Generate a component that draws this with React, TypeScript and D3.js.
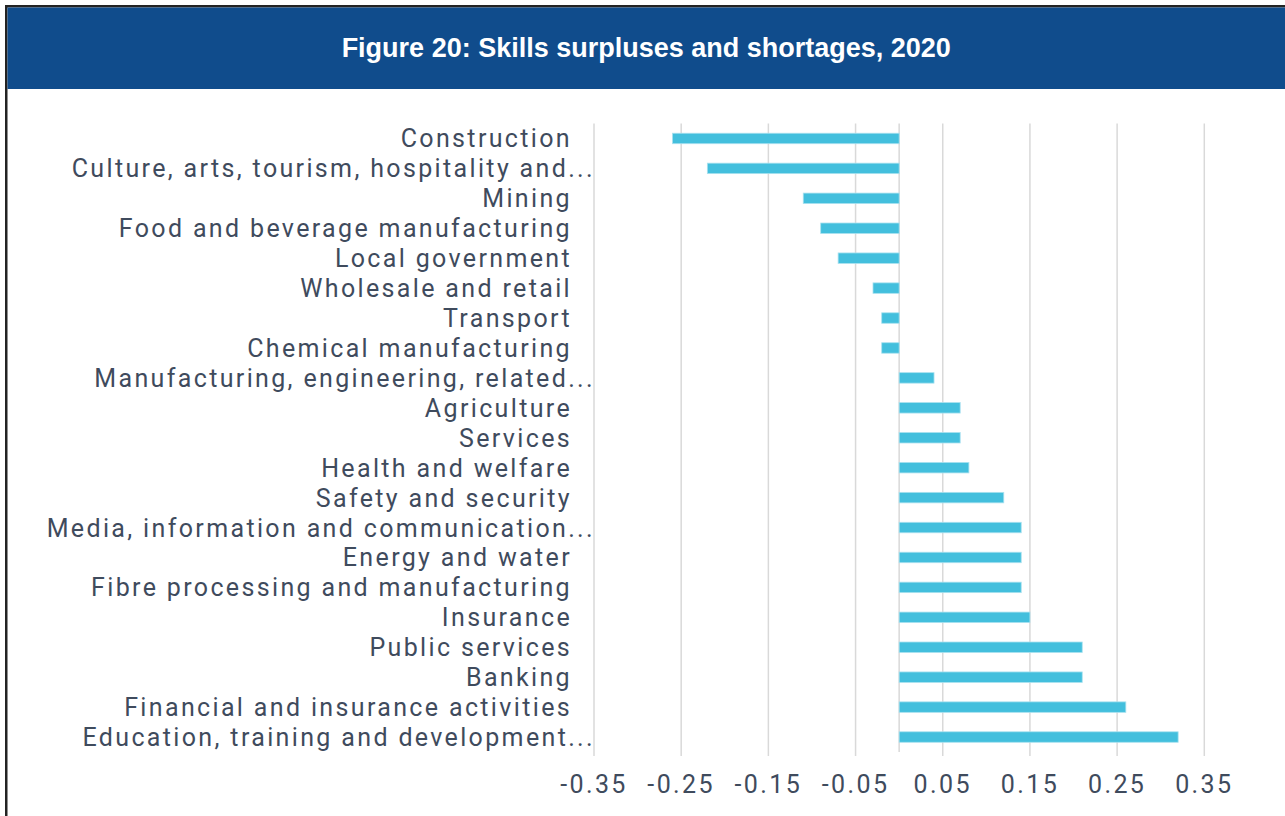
import React from "react";
import * as d3 from "d3";

const categories: string[] = [
  "Construction",
  "Culture, arts, tourism, hospitality and...",
  "Mining",
  "Food and beverage manufacturing",
  "Local government",
  "Wholesale and retail",
  "Transport",
  "Chemical manufacturing",
  "Manufacturing, engineering, related...",
  "Agriculture",
  "Services",
  "Health and welfare",
  "Safety and security",
  "Media, information and communication...",
  "Energy and water",
  "Fibre processing and manufacturing",
  "Insurance",
  "Public services",
  "Banking",
  "Financial and insurance activities",
  "Education, training and development...",
];

const values: number[] = [
  -0.26, -0.22, -0.11, -0.09, -0.07, -0.03, -0.02, -0.02, 0.04, 0.07, 0.07,
  0.08, 0.12, 0.14, 0.14, 0.14, 0.15, 0.21, 0.21, 0.26, 0.32,
];

const tickValues: number[] = [-0.35, -0.25, -0.15, -0.05, 0.05, 0.15, 0.25, 0.35];
const tickLabels: string[] = ["-0.35", "-0.25", "-0.15", "-0.05", "0.05", "0.15", "0.25", "0.35"];

const title = "Figure 20: Skills surpluses and shortages, 2020";

const W = 1285;
const H = 816;
const labelFont = "Roboto, 'Open Sans', sans-serif";
const textColor = "#3f4b5d";

export default function App() {
  const x = d3.scaleLinear().domain([-0.35, 0.35]).range([594, 1204.3]);
  const y = d3
    .scaleBand<string>()
    .domain(categories)
    .range([123.5, 752])
    .paddingInner(0.65)
    .paddingOuter(0.325);

  const [x0] = x.range();
  const [yTop, yBot] = y.range();

  return (
    <svg
      width={W}
      height={H}
      style={{ position: "absolute", left: 0, top: 0, background: "#fff" }}
    >
      {/* frame */}
      <rect x={5} y={5} width={W - 5} height={2.5} fill="#232323" />
      <rect x={5} y={5} width={2.5} height={H - 5} fill="#232323" />
      <rect x={7.5} y={7.5} width={W - 7.5} height={81.5} fill="#104c8c" />
      <text
        x={(7.5 + W) / 2}
        y={57}
        textAnchor="middle"
        fill="#ffffff"
        fontFamily="'Liberation Sans', Arial, sans-serif"
        fontWeight="bold"
        fontSize={27}
      >
        {title}
      </text>

      {/* gridlines */}
      {tickValues.map((t) => (
        <line
          key={"g" + t}
          x1={x(t)}
          x2={x(t)}
          y1={yTop}
          y2={yBot + 4}
          stroke="#d9d9d9"
          strokeWidth={1.5}
        />
      ))}
      <line x1={x(0)} x2={x(0)} y1={yTop} y2={yBot} stroke="#d9d9d9" strokeWidth={1.5} />

      {/* bars */}
      {categories.map((c, i) => {
        const v = values[i];
        const bx = Math.min(x(0), x(v));
        const bw = Math.abs(x(v) - x(0));
        return (
          <rect
            key={c}
            x={bx}
            y={y(c)!}
            width={bw}
            height={y.bandwidth()}
            fill="#43bfdd"
            stroke="#a9e1ef"
            strokeWidth={0.8}
          />
        );
      })}

      {/* category labels */}
      {categories.map((c) => {
        const truncated = c.endsWith("...");
        return (
          <text
            key={"l" + c}
            x={truncated ? x0 + 1 : x0 - 22}
            y={y(c)! + y.bandwidth() / 2}
            dy="0.36em"
            textAnchor="end"
            fill={textColor}
            fontFamily={labelFont}
            fontSize={25}
            letterSpacing={2.35}
          >
            {c}
          </text>
        );
      })}

      {/* tick labels */}
      {tickValues.map((t, i) => (
        <text
          key={"t" + t}
          x={x(t)}
          y={793}
          textAnchor="middle"
          fill={textColor}
          fontFamily={labelFont}
          fontSize={25}
          letterSpacing={2.4}
        >
          {tickLabels[i]}
        </text>
      ))}
    </svg>
  );
}
